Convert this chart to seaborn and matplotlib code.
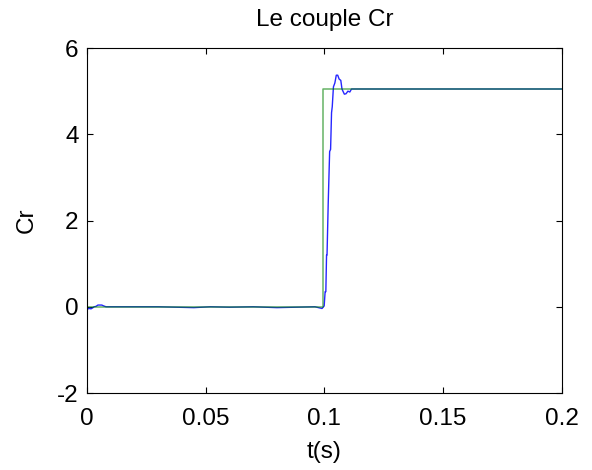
import numpy as np
import pandas as pd
import matplotlib
matplotlib.use("Agg")
import matplotlib.pyplot as plt
import seaborn as sns

# Reference torque (step at t = 0.1 s)
t_ref = [0.0, 0.0992, 0.0992, 0.2]
cr_ref = [0.0, 0.0, 5.05, 5.05]

# Measured torque
t_meas = [0.0, 0.0008, 0.0012, 0.0016, 0.0022, 0.0030, 0.0038, 0.0046, 0.0054, 0.0062,
          0.0070, 0.0080, 0.0200, 0.0300, 0.0450, 0.0520, 0.0600, 0.0700, 0.0800,
          0.0960, 0.0990, 0.0999, 0.1003, 0.1006, 0.1009, 0.1011, 0.1016, 0.1022,
          0.1026, 0.1030, 0.1033, 0.1038, 0.1044, 0.1050, 0.1056, 0.1062, 0.1069,
          0.1074, 0.1078, 0.1084, 0.1091, 0.1099, 0.1107, 0.1114, 0.1120, 0.1300,
          0.1600, 0.2000]
cr_meas = [-0.02, -0.05, -0.02, -0.05, -0.03, 0.0, 0.01, 0.04, 0.04, 0.04,
           0.02, 0.0, 0.0, 0.0, -0.02, 0.0, -0.01, 0.0, -0.02,
           0.0, -0.04, 0.02, 0.35, 0.35, 1.2, 1.2, 2.4, 3.6,
           3.65, 4.5, 4.64, 5.1, 5.19, 5.37, 5.37, 5.28, 5.25,
           5.05, 5.0, 4.93, 4.94, 5.0, 4.98, 5.05, 5.05, 5.05,
           5.05, 5.05]

sns.set_theme(style="white")
plt.rcParams["font.family"] = ["Liberation Sans", "DejaVu Sans"]
plt.rcParams["text.color"] = "black"
plt.rcParams["axes.labelcolor"] = "black"

fig = plt.figure(figsize=(5.92, 4.70), dpi=100)
ax = fig.add_axes([0.147, 0.1638, 0.802, 0.734])

meas = pd.DataFrame({"t": t_meas, "Cr": cr_meas})
ref = pd.DataFrame({"t": t_ref, "Cr": cr_ref})
sns.lineplot(data=meas, x="t", y="Cr", ax=ax, color="#0000ff", linewidth=1.0,
             estimator=None, sort=False, alpha=0.85)
sns.lineplot(data=ref, x="t", y="Cr", ax=ax, color="#008000", linewidth=1.1,
             estimator=None, sort=False, alpha=0.6)

ax.set_xlim(0, 0.2)
ax.set_ylim(-2, 6)
ax.set_xticks([0, 0.05, 0.1, 0.15, 0.2])
ax.set_xticklabels(["0", "0.05", "0.1", "0.15", "0.2"])
ax.set_yticks([-2, 0, 2, 4, 6])
ax.set_yticklabels(["-2", "0", "2", "4", "6"])
ax.tick_params(direction="in", length=4, width=0.8, top=True, right=True,
               bottom=True, left=True, labelsize=17.5, colors="black")
ax.tick_params(axis="x", pad=11)
ax.tick_params(axis="y", pad=6)
for s in ax.spines.values():
    s.set_color("black")
    s.set_linewidth(0.8)

ax.set_xlabel("t(s)", fontsize=17.5, labelpad=8, color="black")
ax.set_ylabel("Cr", fontsize=17.5, labelpad=14, color="black")
ax.set_title("Le couple Cr", fontsize=17.5, pad=16, color="black")

fig.savefig("out.png", dpi=100)
